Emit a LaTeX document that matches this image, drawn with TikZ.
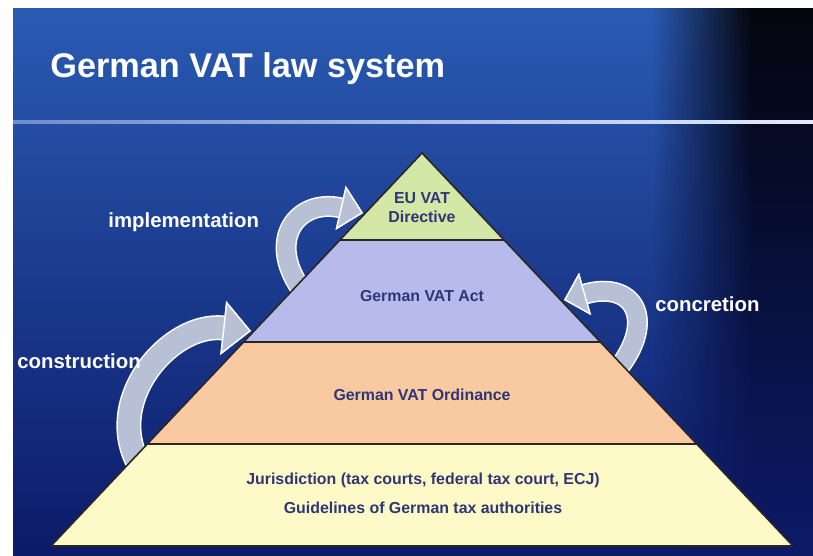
\documentclass[tikz,border=0pt]{standalone}
\usepackage{fontspec}
\setmainfont{Liberation Sans}
\usetikzlibrary{arrows.meta}

\definecolor{bgtop}{HTML}{2A5BB3}
\definecolor{bgbottom}{HTML}{0C1A68}
\definecolor{bgnight}{HTML}{04050E}
\definecolor{rulelight}{HTML}{E4EBFA}
\definecolor{ruledim}{HTML}{6F8CCB}
\definecolor{eucol}{HTML}{D3E8A6}
\definecolor{actcol}{HTML}{B6BBEB}
\definecolor{ordcol}{HTML}{F9C9A1}
\definecolor{jurcol}{HTML}{FDFAC8}
\definecolor{tierink}{HTML}{2E3675}
\definecolor{tieredge}{HTML}{2B2622}
\definecolor{curlcol}{HTML}{B7C0D4}

\begin{document}
\begin{tikzpicture}[x=0.02cm, y=-0.02cm,
		tier/.style={fill=#1, draw=tieredge, line width=0.9pt, line join=round},
		tierlabel/.style={
			font=\fontsize{9.05}{10.8}\selectfont\bfseries,
			text=tierink, align=center, inner sep=0pt
		},
		sidelabel/.style={
			font=\fontsize{11.6}{14}\selectfont\bfseries,
			text=white, inner sep=0pt, anchor=base west
		},
		curl/.style n args={4}{
			draw=curlcol, line width=#1,
			-{Triangle[length=#3, width=#4, line width'=0.8pt, color=white, fill=curlcol]},
			preaction={draw=white, line width=#2,
				-{Triangle[length=#3, width=#4, line width'=0.8pt, color=white, fill=white]}}
		}
		]
		
		% slide background, darkening towards the right edge
		\fill[white] (0,0) rectangle (813,555);
		\useasboundingbox (0,0) rectangle (813,555);
		\shade[top color=bgtop, bottom color=bgbottom] (13,8) rectangle (813,555);
		\foreach \x in {650,654,...,810}{
			\pgfmathtruncatemacro\p{min(100,(\x-650)/1.0)}
			\shade[top color=bgnight!\p!bgtop, bottom color=bgbottom] (\x,8) rectangle (\x+4.6,555);
		}
		\shade[left color=ruledim, right color=rulelight] (13,120.6) rectangle (813,123.4);
		
		\node[font=\fontsize{19.5}{23}\selectfont\bfseries, text=white, anchor=base west, inner sep=0pt]
			(title) at (50,77) {German VAT law system};
		
		% arrow ends
		\coordinate (implFrom) at (301,289);
		\coordinate (implTo)   at (363,213);
		\coordinate (consFrom) at (140,466);
		\coordinate (consTo)   at (251,331);
		\coordinate (concFrom) at (617,370);
		\coordinate (concTo)   at (564,300);
		
		\draw[curl={0.36cm}{0.42cm}{0.46cm}{0.9cm}]
			(implFrom) .. controls +(-35,-50) and +(-65,-15) .. (implTo);
		\draw[curl={0.44cm}{0.5cm}{0.56cm}{1.08cm}]
			(consFrom) .. controls +(-38,-64) and +(-82,-9) .. (consTo);
		\draw[curl={0.36cm}{0.42cm}{0.44cm}{0.88cm}]
			(concFrom) .. controls +(40,-50) and +(70,-20) .. (concTo);
		
		% pyramid, top tier first
		\path[tier=eucol]  (422,153) -- (504.1,240) -- (339.9,240) -- cycle;
		\path[tier=actcol] (339.9,240) -- (504.1,240) -- (600.4,342) -- (243.6,342) -- cycle;
		\path[tier=ordcol] (243.6,342) -- (600.4,342) -- (696.7,444) -- (147.3,444) -- cycle;
		\path[tier=jurcol] (147.3,444) -- (696.7,444) -- (793,546) -- (51,546) -- cycle;
		
		\node[tierlabel] (eu)    at (422,208) {EU VAT\\Directive};
		\node[tierlabel] (act)   at (422,296) {German VAT Act};
		\node[tierlabel] (ord)   at (422,395) {German VAT Ordinance};
		\node[tierlabel] (jur)   at (423,480) {Jurisdiction (tax courts, federal tax court, ECJ)};
		\node[tierlabel] (guide) at (423,508) {Guidelines of German tax authorities};
		
		\node[sidelabel] (implLabel) at (108,227) {implementation};
		\node[sidelabel] (concLabel) at (655,311) {concretion};
		\node[sidelabel] (consLabel) at (17,368)  {construction};
		
	\end{tikzpicture}
\end{document}
